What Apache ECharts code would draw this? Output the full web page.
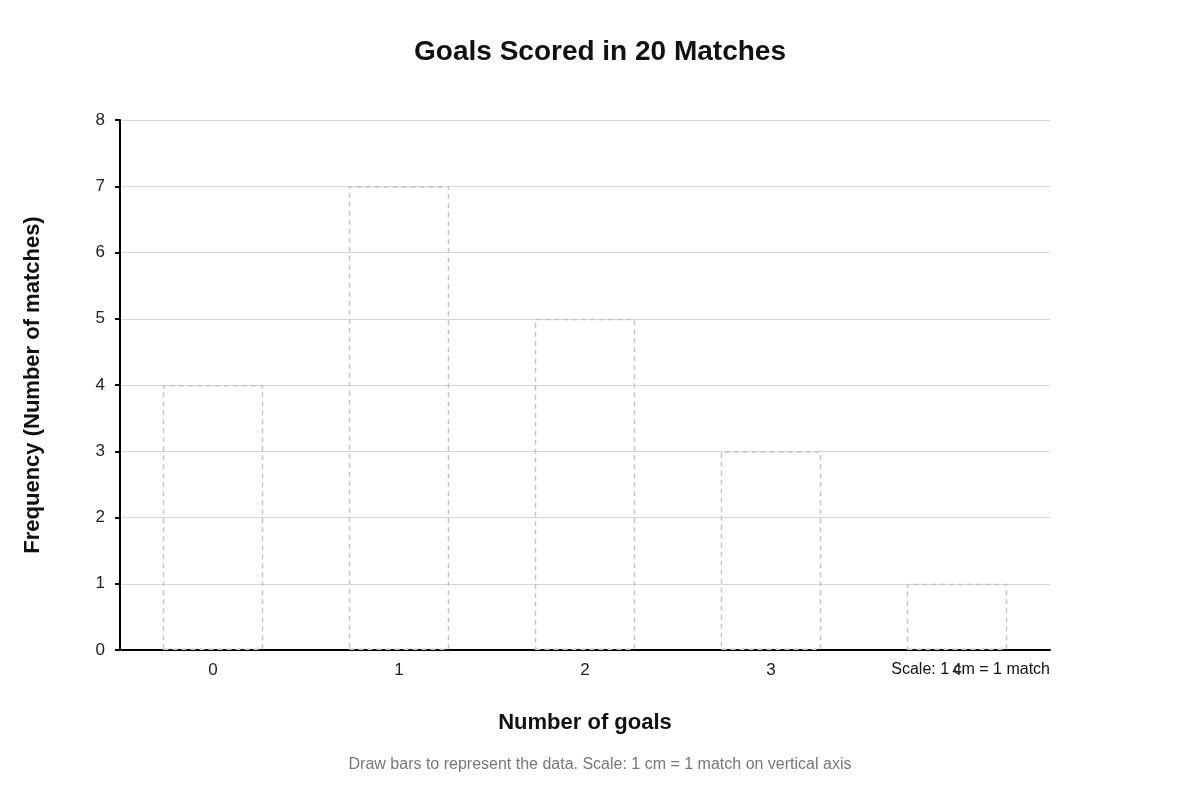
<!DOCTYPE html>
<html>
<head>
<meta charset="utf-8">
<script src="https://cdn.jsdelivr.net/npm/echarts@6/dist/echarts.min.js"></script>
<style>
* {margin: 0; padding: 0;}
#main {width: 1200px; height: 800px; background: #fff;}
</style>
</head>
<body>
<div id="main"></div>
<script>
// 数据
const goals = ['0', '1', '2', '3', '4'];
const matches = [4, 7, 5, 3, 1];
const yTicks = [0, 1, 2, 3, 4, 5, 6, 7, 8];

const FONT = '"Liberation Sans", Arial, sans-serif';

const chart = echarts.init(document.getElementById('main'));
chart.setOption({
    animation: false,
    textStyle: {fontFamily: FONT},
    title: {
        text: 'Goals Scored in 20 Matches',
        left: 'center',
        top: 33,
        textStyle: {fontSize: 28, fontWeight: 'bold', color: '#111', fontFamily: FONT}
    },
    grid: {left: 120, right: 150, top: 120, bottom: 150},
    xAxis: {
        type: 'category',
        data: goals,
        name: 'Number of goals',
        nameLocation: 'middle',
        nameGap: 62,
        nameTextStyle: {fontSize: 22, fontWeight: 'bold', color: '#111'},
        axisLine: {lineStyle: {color: '#000', width: 2}},
        axisTick: {alignWithLabel: true, length: 5, lineStyle: {color: '#000', width: 2}},
        axisLabel: {fontSize: 17, color: '#222', margin: 12}
    },
    yAxis: {
        type: 'value',
        min: yTicks[0],
        max: yTicks[yTicks.length - 1],
        interval: 1,
        name: 'Frequency (Number of matches)',
        nameLocation: 'middle',
        nameGap: 76,
        nameTextStyle: {fontSize: 22, fontWeight: 'bold', color: '#111'},
        axisLine: {show: true, lineStyle: {color: '#000', width: 2}},
        axisTick: {show: true, length: 5, lineStyle: {color: '#000', width: 2}},
        axisLabel: {fontSize: 17, color: '#222', margin: 15},
        splitLine: {lineStyle: {color: '#d6d6d6', width: 1}}
    },
    series: [{
        type: 'bar',
        data: matches,
        barWidth: '54%',
        itemStyle: {
            color: 'rgba(255,255,255,0)',
            borderColor: '#c4c4c4',
            borderWidth: 1.5,
            borderType: [5, 4]
        }
    }],
    graphic: [
        {
            type: 'text',
            right: 150,
            top: 662,
            style: {text: 'Scale: 1 cm = 1 match', font: '16px ' + FONT, fill: '#111'}
        },
        {
            type: 'text',
            left: 'center',
            top: 757,
            style: {text: 'Draw bars to represent the data. Scale: 1 cm = 1 match on vertical axis', font: '16px ' + FONT, fill: '#777'}
        }
    ]
});
</script>
</body>
</html>
